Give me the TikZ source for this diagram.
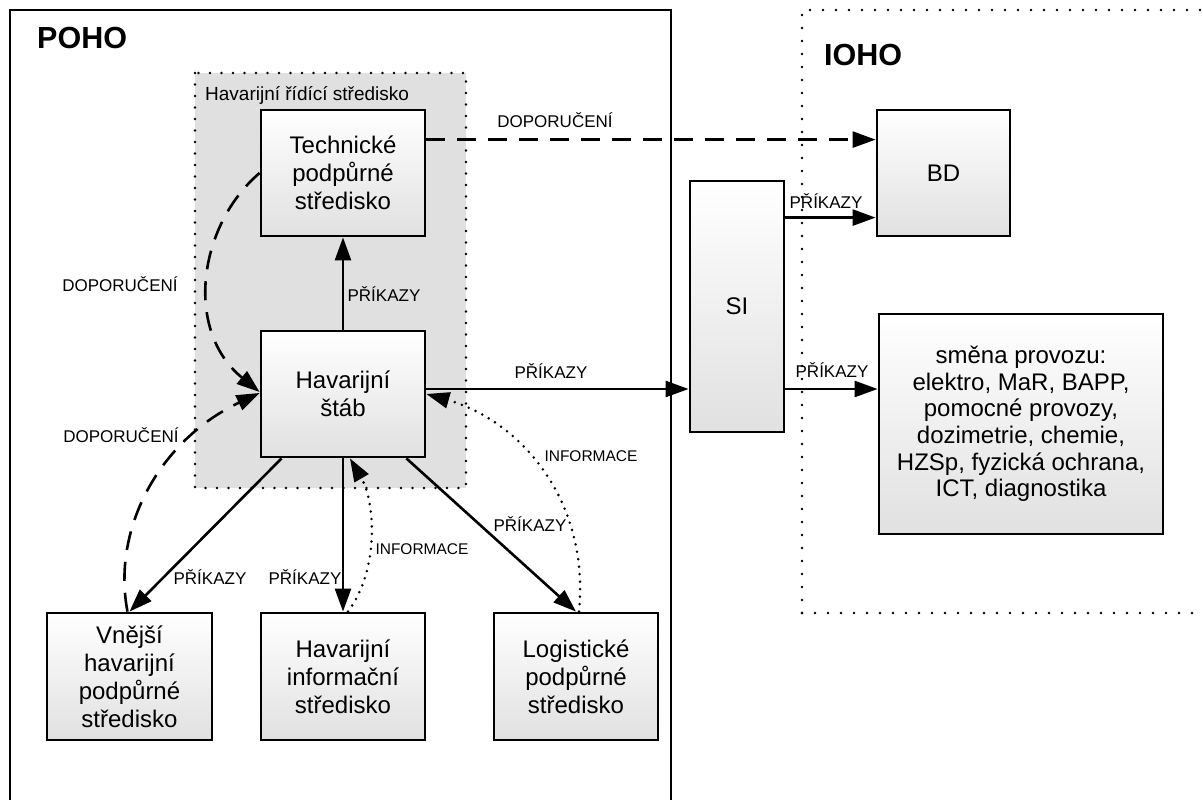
\documentclass[tikz,border=0pt]{standalone}
\usepackage{fontspec}
\setmainfont{Liberation Sans}
\usetikzlibrary{arrows.meta,calc}
\begin{document}
\begin{tikzpicture}[x=1pt,y=-1pt,
  box/.style={draw, line width=2.8pt, top color=white, bottom color=black!12,
    align=center, inner sep=0pt, font=\fontsize{24}{28}\selectfont},
  lab/.style={inner sep=0pt, anchor=base, font=\fontsize{17}{20}\selectfont},
  ilab/.style={inner sep=0pt, anchor=base, font=\fontsize{15.5}{18}\selectfont},
  arr/.style={line width=2.6pt, -{Triangle[length=23pt,width=16pt]}},
  darr/.style={arr, dash pattern=on 19pt off 12pt},
  iarr/.style={arr, dash pattern=on 0pt off 7.5pt, line cap=round, line width=2.8pt},
  dotline/.style={line width=2.8pt, dash pattern=on 0pt off 13pt, line cap=round},
]
\useasboundingbox (0,0) rectangle (1203,800);
% frames
\draw[line width=2.8pt] (10,800) -- (10,10) -- (671,10) -- (671,800);
\draw[dotline] (802,613) -- (802,10) -- (1203,10);
\draw[dotline] (802,613) -- (1203,613);
\fill[black!12] (195,73) rectangle (466,488);
\draw[line width=2.8pt, dash pattern=on 0pt off 11.5pt, line cap=round] (195,73) rectangle (466,488);
\node[inner sep=0pt, anchor=base west, font=\fontsize{19}{22}\selectfont] (hrs) at (205,101) {Havarijní řídící středisko};
\node[inner sep=0pt, anchor=base west, font=\fontsize{30.5}{34}\selectfont\bfseries] (poho) at (37,49) {POHO};
\node[inner sep=0pt, anchor=base west, font=\fontsize{30.5}{34}\selectfont\bfseries] (ioho) at (824,66) {IOHO};
% boxes
\node[box, minimum width=164pt, minimum height=126pt] (tps) at (343,173) {Technické\\podpůrné\\středisko};
\node[box, minimum width=164pt, minimum height=126pt] (hs) at (343,394) {Havarijní\\štáb};
\node[box, minimum width=165pt, minimum height=127pt] (vn) at (129.5,676.5) {Vnější\\havarijní\\podpůrné\\středisko};
\node[box, minimum width=164pt, minimum height=127pt] (inf) at (343,676.5) {Havarijní\\informační\\středisko};
\node[box, minimum width=164pt, minimum height=127pt] (log) at (576,676.5) {Logistické\\podpůrné\\středisko};
\node[box, minimum width=94pt, minimum height=251pt] (si) at (737,306.5) {SI};
\node[box, minimum width=133pt, minimum height=126pt] (bd) at (943.5,173) {BD};
\node[box, minimum width=284pt, minimum height=220pt, font=\fontsize{24}{26.7}\selectfont] (sm) at (1021,424)
  {směna provozu:\\elektro, MaR, BAPP,\\pomocné provozy,\\dozimetrie, chemie,\\HZSp, fyzická ochrana,\\ICT, diagnostika};
% connectors
\coordinate (c1) at ($(hs.east)+(0,-5)$);
\coordinate (c2) at ($(si.north east)+(0,38)$);
\coordinate (c3) at ($(tps.north east)+(0,31)$);
\draw[arr] (hs.north) -- (tps.south);
\draw[arr] (c1) -- (c1 -| si.west);
\draw[arr] (si.east |- c1) -- (sm.west |- c1);
\draw[arr] (c2) -- (c2 -| bd.west);
\draw[darr] (c3) -- (c3 -| bd.west);
\draw[arr] ($(hs.south west)+(22,0)$) -- (vn.north);
\draw[arr] (hs.south) -- (inf.north);
\draw[arr] ($(hs.south east)+(-20,0)$) -- (log.north);
\draw[darr] (tps.west) .. controls +(-61,52) and +(-76,-62) .. ($(hs.west)+(0,-2)$);
\draw[darr] ($(vn.north)+(-2,0)$) .. controls +(-16,-83) and +(-100,47) .. ($(hs.west)+(0,-1)$);
\draw[iarr] ($(inf.north)+(5,0)$) .. controls +(32,-43) and +(25,43) .. ($(hs.south)+(7,0)$);
\draw[iarr] ($(log.north)+(3,0)$) .. controls +(11,-113) and +(92,26) .. (hs.east);
% labels
\node[lab] (l1) at (555,128) {DOPORUČENÍ};
\node[lab] (l2) at (384,301) {PŘÍKAZY};
\node[lab] (l3) at (551,378) {PŘÍKAZY};
\node[lab] (l4) at (826,208) {PŘÍKAZY};
\node[lab] (l5) at (832,377) {PŘÍKAZY};
\node[lab] (l6) at (120,291) {DOPORUČENÍ};
\node[lab] (l7) at (121,442) {DOPORUČENÍ};
\node[lab] (l8) at (210,584) {PŘÍKAZY};
\node[lab] (l9) at (305,584) {PŘÍKAZY};
\node[lab] (l10) at (530,531) {PŘÍKAZY};
\node[ilab] (l11) at (591,461) {INFORMACE};
\node[ilab] (l12) at (422,554) {INFORMACE};
\end{tikzpicture}
\end{document}
